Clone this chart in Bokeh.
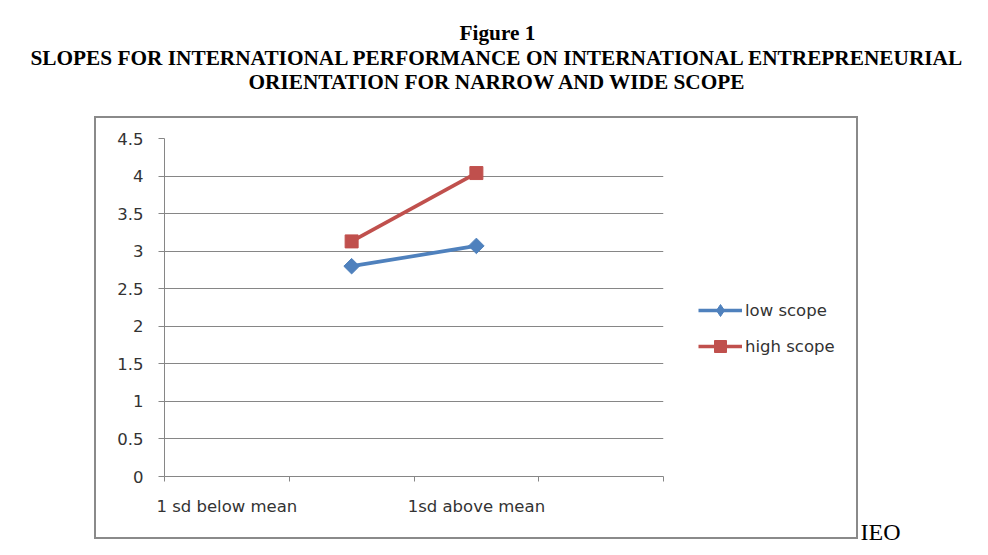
import math
from bokeh.plotting import figure
from bokeh.layouts import column, row
from bokeh.models import Range1d, FixedTicker, Legend, LegendItem, Spacer
from bokeh.core.properties import value
from bokeh.embed import file_html
from bokeh.resources import INLINE

# ---- data ----
categories = ["1 sd below mean", "", "1sd above mean", ""]
cat_index = [0, 1, 2, 3]
low_x = [1, 2]
low_scope = [2.80, 3.07]
high_x = [1, 2]
high_scope = [3.13, 4.04]
y_ticks = [0, 0.5, 1, 1.5, 2, 2.5, 3, 3.5, 4, 4.5]
series_names = ["low scope", "high scope"]
title_lines = ["Figure 1",
               "SLOPES FOR INTERNATIONAL PERFORMANCE ON INTERNATIONAL ENTREPRENEURIAL",
               "ORIENTATION FOR NARROW AND WIDE SCOPE"]
side_note = ["IEO"]

BLUE = "#4F81BD"
RED = "#C0504D"
GRID = "#868686"
TXT = "#333333"
LABEL_FONT = "DejaVu Sans"


def blank_fig(w, h):
    f = figure(width=w, height=h, output_backend="svg", toolbar_location=None,
               x_range=Range1d(0, w), y_range=Range1d(h, 0),
               min_border=0, x_axis_location=None, y_axis_location=None)
    f.grid.visible = False
    f.outline_line_color = None
    f.background_fill_alpha = 0
    f.border_fill_alpha = 0
    return f


# ---- title ----
title_fig = blank_fig(988, 118)
title_fig.text(x=[497, 497, 497], y=[32, 57, 81], text=title_lines,
               text_align="center", text_baseline="alphabetic",
               text_font=value("Liberation Serif"), text_font_style="bold",
               text_font_size="21.3px", text_color="black")

# ---- chart ----
p = figure(width=584, height=419, output_backend="svg", toolbar_location=None,
           x_range=Range1d(-0.5, 3.5), y_range=Range1d(0, 4.5),
           min_border_left=68, min_border_right=17,
           min_border_top=20, min_border_bottom=61)
p.outline_line_color = None
p.background_fill_color = "white"
p.border_fill_color = "white"

p.xaxis.ticker = FixedTicker(ticks=[c for c, n in zip(cat_index, categories) if n],
                             minor_ticks=[c - 0.5 for c in cat_index] + [cat_index[-1] + 0.5])
p.xaxis.major_label_overrides = {c: n for c, n in zip(cat_index, categories) if n}
p.xaxis.major_tick_line_color = None
p.xaxis.minor_tick_in = 0
p.xaxis.minor_tick_out = 5
p.xaxis.minor_tick_line_color = GRID
p.xaxis.major_label_standoff = 14
p.xaxis.axis_line_color = GRID

p.yaxis.ticker = FixedTicker(ticks=y_ticks)
p.yaxis.major_tick_in = 0
p.yaxis.major_tick_out = 6
p.yaxis.major_tick_line_color = GRID
p.yaxis.minor_tick_line_color = None
p.yaxis.axis_line_color = GRID
p.yaxis.major_label_standoff = 15

for ax in (p.xaxis[0], p.yaxis[0]):
    ax.major_label_text_font = LABEL_FONT
    ax.major_label_text_font_size = "16.5px"
    ax.major_label_text_color = TXT

p.xgrid.grid_line_color = None
p.ygrid.ticker = FixedTicker(ticks=y_ticks)
p.ygrid.grid_line_color = GRID
p.ygrid.grid_line_width = 1


def add_series(fig, xs, ys, color, marker, msize, angle=0.0, visible=True):
    ln = fig.line(xs, ys, line_color=color, line_width=3.7, visible=visible)
    mk = fig.scatter(xs, ys, marker=marker, size=msize, angle=angle,
                     fill_color=color, line_color=color, visible=visible)
    return [ln, mk]


add_series(p, low_x, low_scope, BLUE, "square", 11, angle=math.pi / 4)
add_series(p, high_x, high_scope, RED, "square", 13)

# ---- legend panel (inside the chart border) ----
legend_fig = blank_fig(176, 419)
legend_fig.background_fill_alpha = 1
legend_fig.background_fill_color = "white"
legend_fig.border_fill_alpha = 1
legend_fig.border_fill_color = "white"
lg_low = add_series(legend_fig, low_x, low_scope, BLUE, "diamond", 17, visible=False)
lg_high = add_series(legend_fig, high_x, high_scope, RED, "square", 13, visible=False)
legend = Legend(items=[LegendItem(label=series_names[0], renderers=lg_low),
                       LegendItem(label=series_names[1], renderers=lg_high)],
                location=(18, 115), orientation="vertical",
                label_text_font=LABEL_FONT, label_text_font_size="16.5px",
                label_text_color=TXT,
                glyph_width=44, glyph_height=30, label_standoff=3,
                spacing=6, padding=0, margin=0,
                border_line_color=None, background_fill_alpha=0)
legend_fig.add_layout(legend, "center")

chart_box = row(p, legend_fig, styles={"box-shadow": "0 0 0 2px #8a8a8a"})

# ---- side note ----
note_fig = blank_fig(132, 437)
note_fig.text(x=[4], y=[413], text=side_note, text_align="left",
              text_baseline="alphabetic", text_font=value("Liberation Serif"),
              text_font_size="24px", text_color="black")

layout = column(title_fig, row(Spacer(width=96, height=437), chart_box, note_fig))

open("out.html", "w").write(file_html(layout, INLINE))
